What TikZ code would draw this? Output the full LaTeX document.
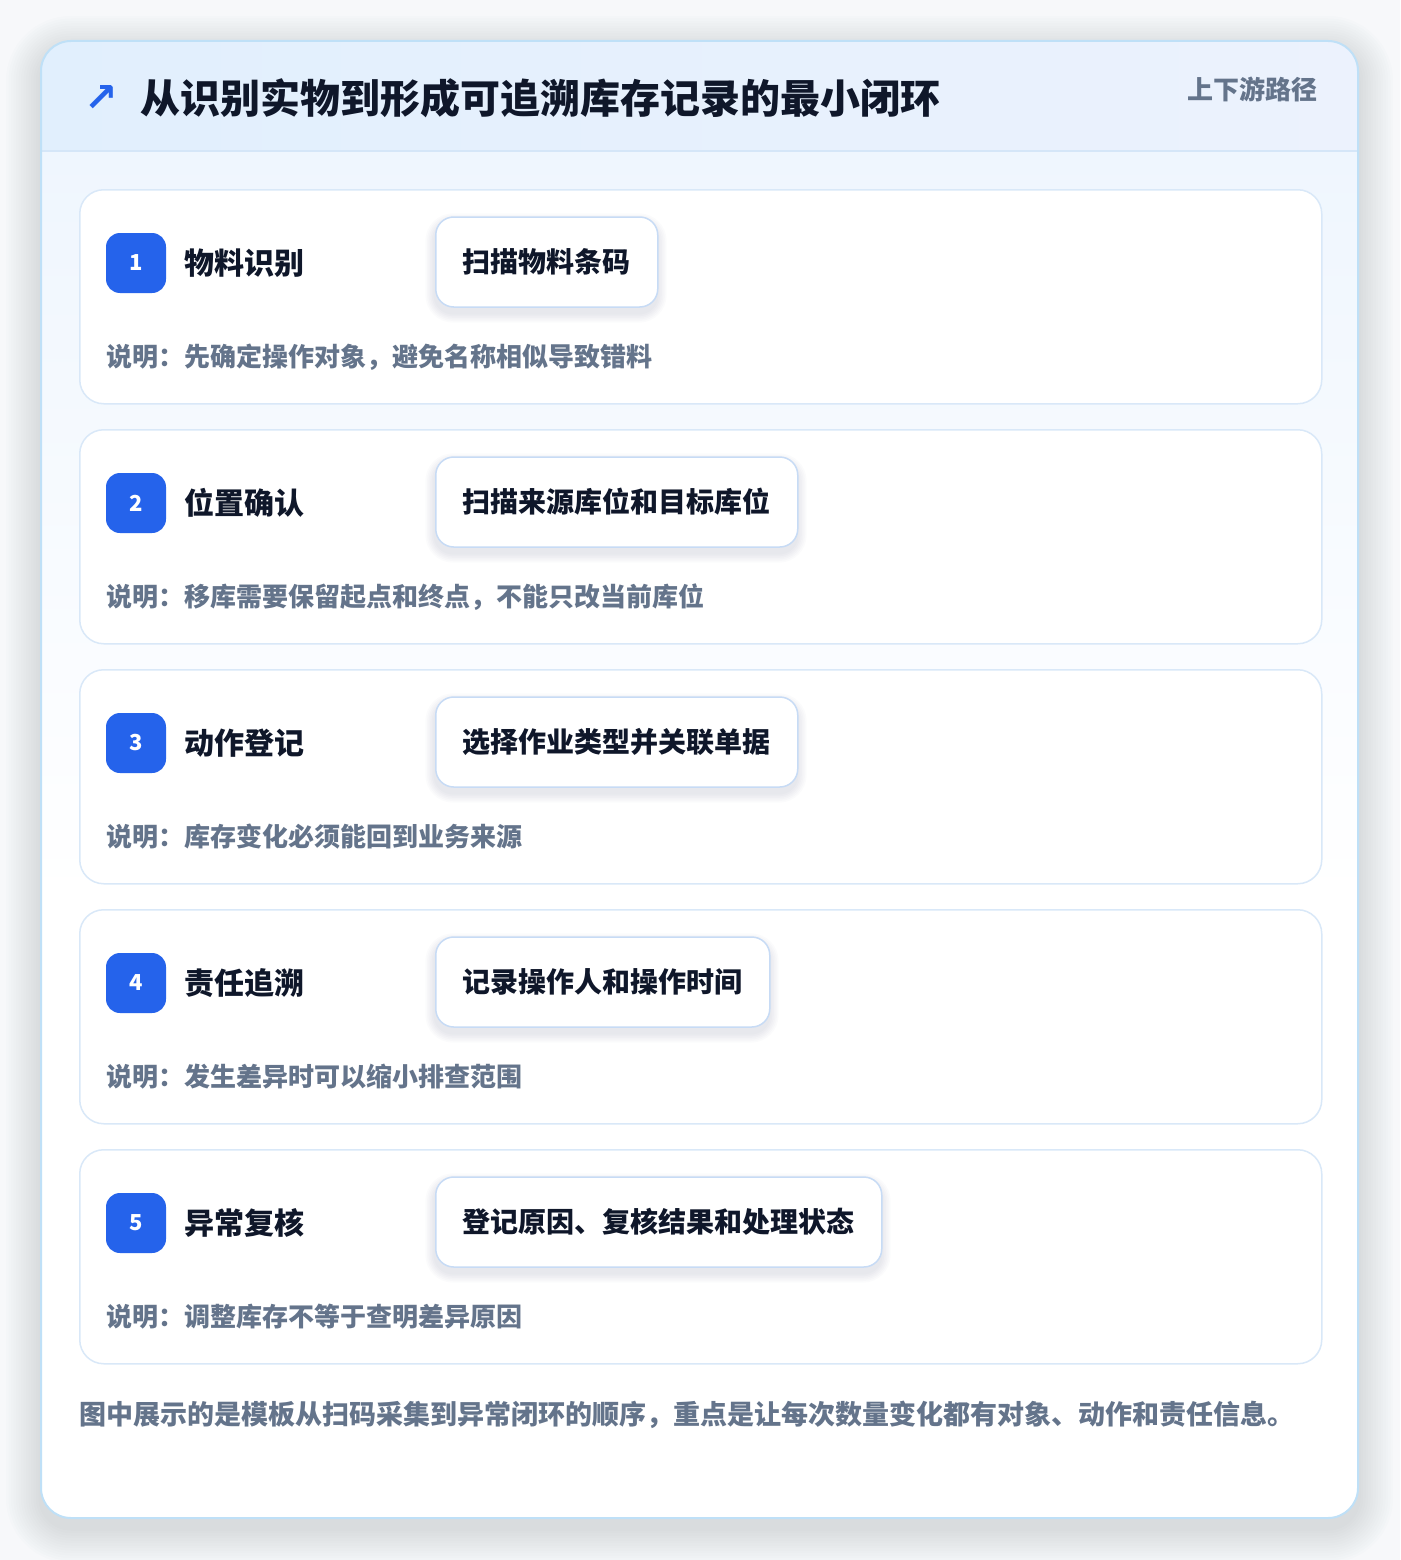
\documentclass[tikz,border=0pt]{standalone}
\usepackage{fontspec}
\setmainfont{Noto Sans CJK SC}
\newfontfamily\symfont{DejaVu Sans}
\definecolor{pagebg}{HTML}{F7F8FA}
\definecolor{outline}{HTML}{BFE0F7}
\definecolor{headA}{HTML}{E1EFFD}
\definecolor{headB}{HTML}{ECF2FD}
\definecolor{headline}{HTML}{D5E6F8}
\definecolor{bodytop}{HTML}{EFF6FE}
\definecolor{cardline}{HTML}{D9E8F8}
\definecolor{boxline}{HTML}{C7DBF5}
\definecolor{accent}{HTML}{2563EB}
\definecolor{ink}{HTML}{0F172A}
\definecolor{muted}{HTML}{64748B}
\definecolor{shadowc}{HTML}{475569}
\tikzset{
  card/.style={draw=cardline, line width=1.5pt, rounded corners=24pt, fill=white,
    minimum width=1242pt, minimum height=214pt, inner sep=0pt, anchor=north west},
  badge/.style={fill=accent, rounded corners=14pt, minimum size=60pt, inner sep=0pt,
    text=white, font=\fontsize{22}{24}\selectfont\bfseries},
  steptitle/.style={anchor=west, inner sep=0pt, text=ink, font=\fontsize{30}{34}\selectfont\bfseries},
  actionbox/.style={draw=boxline, line width=1.5pt, fill=white, rounded corners=18pt,
    minimum height=90pt, inner xsep=27pt, inner ysep=0pt, anchor=west, text=ink,
    font=\fontsize{28}{32}\selectfont\bfseries},
  desc/.style={anchor=west, inner sep=0pt, text=muted, font=\fontsize{26}{30}\selectfont\bfseries},
  softlayer/.style={fill=shadowc, fill opacity=#1},
}
\begin{document}
\begin{tikzpicture}[x=1pt,y=-1pt]
\useasboundingbox (0,0) rectangle (1400,1560);
\fill[pagebg] (0,0) rectangle (1400,1560);
% soft shadow of the outer card
\foreach \k in {1,...,14}{
  \fill[softlayer=0.010, rounded corners=30pt+2.5pt*\k]
    (41-2.5*\k,41-2.5*\k+10) rectangle (1358+2.5*\k,1518+2.5*\k+10);
}
% outer card
\begin{scope}
  \clip[rounded corners=30pt] (41,41) rectangle (1358,1518);
  \fill[white] (41,41) rectangle (1358,1518);
  \shade[top color=bodytop, bottom color=white] (41,151) rectangle (1358,900);
  \shade[left color=headA, right color=headB] (41,41) rectangle (1358,151);
  \draw[headline, line width=1.5pt] (41,151) -- (1358,151);
\end{scope}
\draw[outline, line width=2pt, rounded corners=30pt] (41,41) rectangle (1358,1518);
% header
\node[inner sep=0pt, text=accent, font=\symfont\bfseries\fontsize{40}{42}\selectfont] (arrow) at (101,99) {↗};
\node[anchor=west, inner sep=0pt, text=ink, font=\fontsize{40}{46}\selectfont\bfseries] (title) at (140,98)
  {从识别实物到形成可追溯库存记录的最小闭环};
\node[anchor=east, inner sep=0pt, text=muted, font=\fontsize{26}{30}\selectfont\bfseries] (tag) at (1318,89) {上下游路径};
% steps
\foreach \i/\t/\a/\w/\d in {
  1/物料识别/扫描物料条码/222/说明：先确定操作对象，避免名称相似导致错料,
  2/位置确认/扫描来源库位和目标库位/362/说明：移库需要保留起点和终点，不能只改当前库位,
  3/动作登记/选择作业类型并关联单据/362/说明：库存变化必须能回到业务来源,
  4/责任追溯/记录操作人和操作时间/334/说明：发生差异时可以缩小排查范围,
  5/异常复核/登记原因、复核结果和处理状态/446/说明：调整库存不等于查明差异原因}{
  \pgfmathsetmacro{\yy}{189+240*(\i-1)}
  \node[card] (c\i) at (79,\yy) {};
  \node[badge] (b\i) at (136,\yy+74) {\i};
  \node[steptitle] (t\i) at (184,\yy+74) {\t};
  \foreach \k in {1,...,6}{
    \fill[softlayer=0.018, rounded corners=18pt+1.6pt*\k]
      (435-1.6*\k,\yy+28-1.6*\k+6) rectangle (435+\w+1.6*\k,\yy+118+1.6*\k+6);
  }
  \node[actionbox, minimum width=\w pt] (a\i) at (435,\yy+73) {\a};
  \node[desc] (d\i) at (106,\yy+168) {\d};
}
% footer
\node[anchor=west, inner sep=0pt, text=muted, font=\fontsize{27}{31}\selectfont\bfseries] (foot) at (79,1415)
  {图中展示的是模板从扫码采集到异常闭环的顺序，重点是让每次数量变化都有对象、动作和责任信息。};
\end{tikzpicture}
\end{document}
